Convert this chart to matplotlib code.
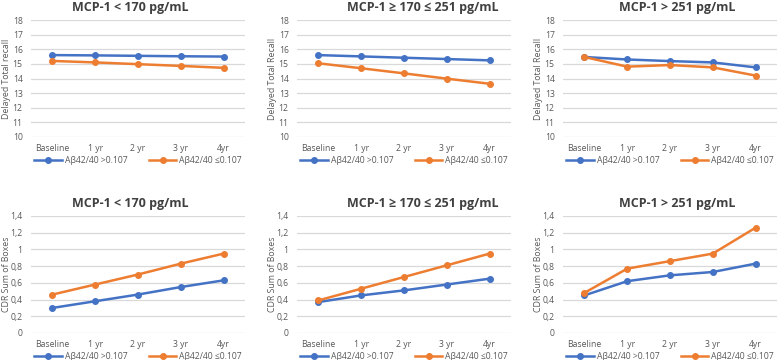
import matplotlib
matplotlib.use("Agg")
import matplotlib.pyplot as plt

plt.rcParams['font.family'] = ['Open Sans', 'DejaVu Sans']

# data
visits = ['Baseline', '1 yr', '2 yr', '3 yr', '4yr']
titles = ['MCP-1 < 170 pg/mL', 'MCP-1 \u2265 170 \u2264 251 pg/mL', 'MCP-1 > 251 pg/mL']
series_names = ['A\u03b242/40 >0.107', 'A\u03b242/40 \u22640.107']

recall_high = [[15.6, 15.58, 15.55, 15.52, 15.5],
               [15.6, 15.51, 15.42, 15.33, 15.24],
               [15.47, 15.3, 15.19, 15.1, 14.76]]
recall_low = [[15.2, 15.1, 14.98, 14.86, 14.73],
              [15.04, 14.7, 14.35, 13.99, 13.64],
              [15.47, 14.81, 14.92, 14.76, 14.2]]

cdr_high = [[0.30, 0.38, 0.46, 0.55, 0.63],
            [0.37, 0.45, 0.51, 0.58, 0.65],
            [0.45, 0.62, 0.69, 0.73, 0.83]]
cdr_low = [[0.46, 0.58, 0.70, 0.83, 0.95],
           [0.39, 0.53, 0.67, 0.81, 0.95],
           [0.48, 0.77, 0.86, 0.95, 1.26]]

recall_labels = ['Delayed Total recall', 'Delayed Total Recall', 'Delayed Total Recall']
cdr_ticks = [0, 0.2, 0.4, 0.6, 0.8, 1.0, 1.2, 1.4]
cdr_ticklabels = ['0', '0,2', '0,4', '0,6', '0,8', '1', '1,2', '1,4']

BLUE = '#4472C4'
ORANGE = '#ED7D31'
GREY = '#595959'

W, H = 780, 360
fig = plt.figure(figsize=(7.8, 3.6), dpi=100)

lefts = [31, 297, 563]
widths = [214, 214, 214]
title_x = [130, 423, 677]


def make_axes(i, top, bottom):
    ax = fig.add_axes([lefts[i] / W, 1 - bottom / H, widths[i] / W, (bottom - top) / H])
    for s in ax.spines.values():
        s.set_visible(False)
    ax.grid(axis='y', color='#D9D9D9', linewidth=0.9)
    ax.set_axisbelow(True)
    ax.tick_params(length=0, labelsize=6.2, labelcolor=GREY)
    ax.tick_params(axis='x', pad=5)
    ax.tick_params(axis='y', pad=6)
    ax.set_xlim(-0.5, 4.5)
    return ax


def draw(ax, hi, lo):
    x = range(len(visits))
    ax.plot(x, hi, color=BLUE, lw=1.8, marker='o', ms=4, label=series_names[0])
    ax.plot(x, lo, color=ORANGE, lw=1.8, marker='o', ms=4, label=series_names[1])
    ax.set_xticks(list(x))
    ax.set_xticklabels(visits)
    ax.legend(loc='upper center', bbox_to_anchor=(0.5, -0.13), ncol=2, frameon=False,
              fontsize=6.2, labelcolor=GREY, handlelength=3.2, columnspacing=2.5,
              handletextpad=0.3, borderaxespad=0)


for i in range(3):
    ax = make_axes(i, 20, 137)
    draw(ax, recall_high[i], recall_low[i])
    ax.set_ylim(10, 18)
    ax.set_yticks(range(10, 19))
    ax.set_ylabel(recall_labels[i], fontsize=6.3, color=GREY)
    ax.yaxis.set_label_coords(-0.095, 0.5)
    fig.text(title_x[i] / W, 1 - 8 / H, titles[i], ha='center', va='center',
             fontsize=9, fontweight='bold', color='#404040')

    ax = make_axes(i, 216, 333)
    draw(ax, cdr_high[i], cdr_low[i])
    ax.set_ylim(0, 1.4)
    ax.set_yticks(cdr_ticks)
    ax.set_yticklabels(cdr_ticklabels)
    ax.set_ylabel('CDR Sum of Boxes', fontsize=6.3, color=GREY)
    ax.yaxis.set_label_coords(-0.095, 0.5)
    fig.text(title_x[i] / W, 1 - 203 / H, titles[i], ha='center', va='center',
             fontsize=9, fontweight='bold', color='#404040')

fig.savefig('out.png', dpi=100, facecolor='white')
